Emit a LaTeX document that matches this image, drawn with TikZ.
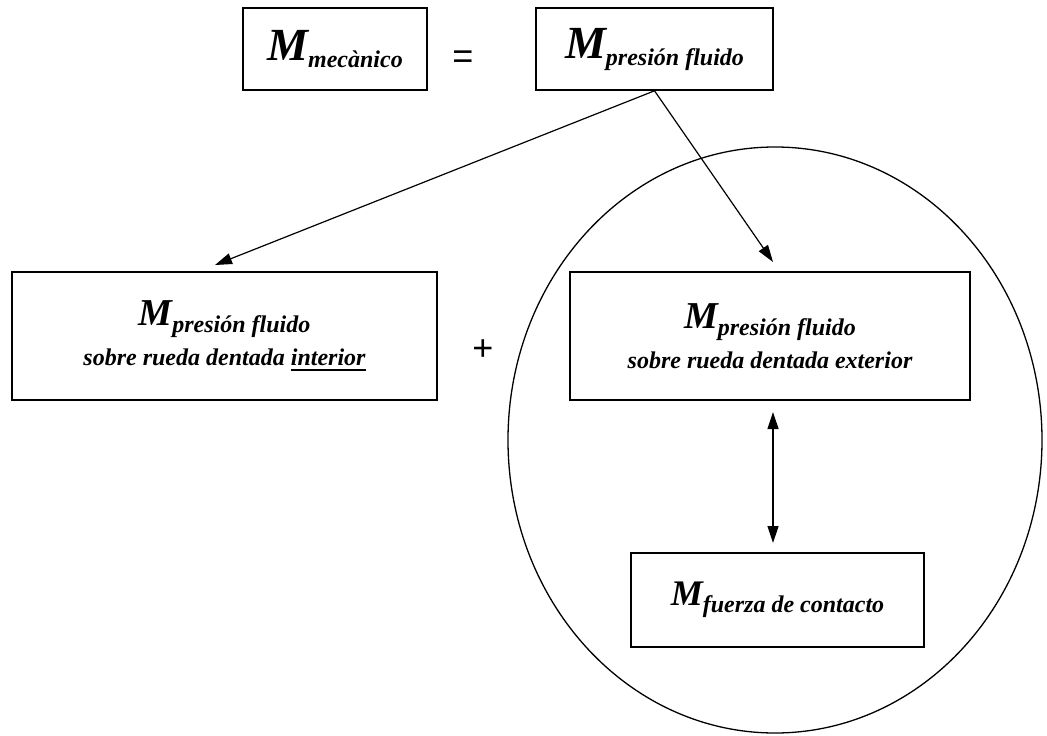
\documentclass[tikz,border=0pt]{standalone}
\usepackage{fontspec}
\setmainfont{Liberation Serif}
\newfontfamily\plainsans{Liberation Sans}
\usetikzlibrary{arrows.meta,positioning}

\newcommand{\Msub}[2][38]{{\fontsize{#1}{#1}\selectfont M}\raisebox{-7pt}{\fontsize{24}{24}\selectfont #2}}
\newcommand{\thickul}[1]{\setbox0\hbox{#1}\rlap{\raisebox{-5pt}{\rule{\wd0}{2.4pt}}}\box0}

\begin{document}
\begin{tikzpicture}[x=1pt, y=-1pt,
    box/.style={draw, line width=1.6pt, inner sep=0pt, align=center,
      font=\bfseries\itshape\fontsize{24}{40}\selectfont},
    sign/.style={font=\plainsans\fontsize{36}{36}\selectfont},
    link/.style={line width=1.2pt, -{Triangle[length=17pt,width=11pt]}},
    dlink/.style={line width=1.2pt, {Triangle[length=17pt,width=11pt]}-{Triangle[length=17pt,width=11pt]}}]
  \useasboundingbox (0,0) rectangle (1047,736);

  % top row
  \node[box, minimum width=184pt, minimum height=82pt] (mec) at (335,49) {\Msub[46]{mecànico}};
  \node[sign] (eq) at (463,60) {=};
  \node[box, minimum width=237pt, minimum height=82pt] (pres) at (654.5,49) {\Msub[46]{presión fluido}};

  % middle row
  \node[box, minimum width=425pt, minimum height=128pt] (int) at (224.5,336)
    {\Msub{presión fluido}\\ sobre rueda dentada \thickul{interior}};
  \node[sign] (plus) at (483,350) {+};
  \node[box, minimum width=400pt, minimum height=128pt] (ext) at (770,336)
    {\Msub{presión fluido}\\ sobre rueda dentada exterior};

  % contact force
  \node[box, minimum width=293pt, minimum height=94pt] (cont) at (777.5,600) {\Msub[36]{fuerza de contacto}};

  \draw[line width=1.3pt] (775,440) ellipse [x radius=267pt, y radius=293pt];

  \coordinate (intin) at (215,265);
  \coordinate (extin) at (773,262);
  \coordinate (dtop) at (773,412);
  \coordinate (dbot) at (773,543);

  \draw[link] (pres.south) -- (intin);
  \draw[link] (pres.south) -- (extin);
  \draw[dlink] (dtop) -- (dbot);
\end{tikzpicture}
\end{document}
